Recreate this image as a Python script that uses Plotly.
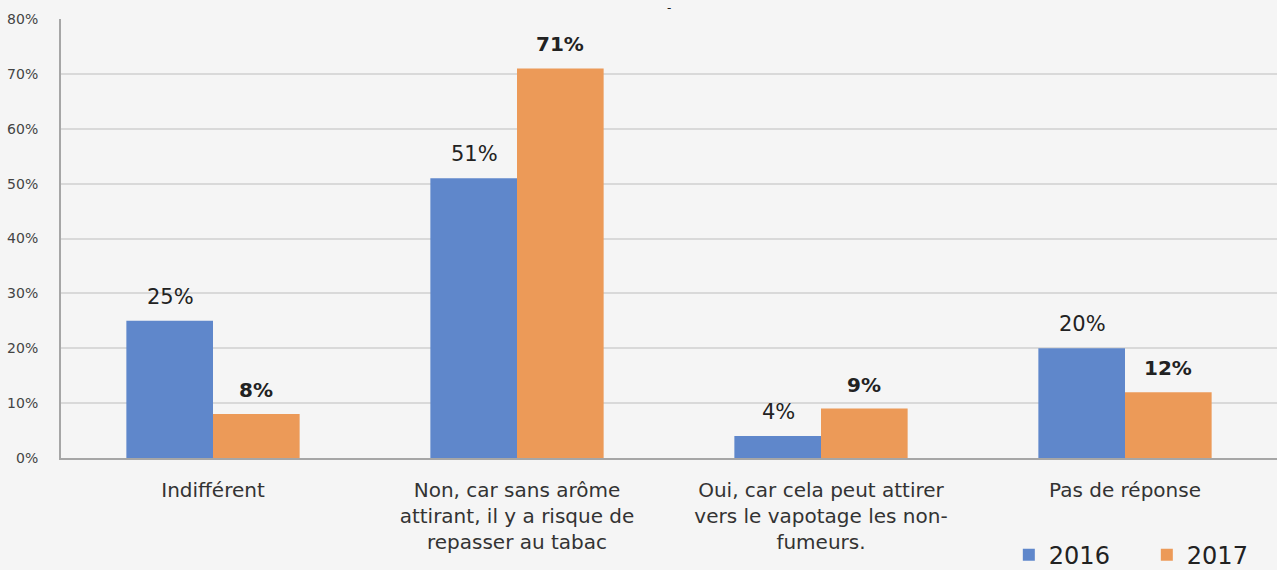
import plotly.graph_objects as go

categories = [
    "Indifférent",
    "Non, car sans arôme<br>attirant, il y a risque de<br>repasser au tabac",
    "Oui, car cela peut attirer<br>vers le vapotage les non-<br>fumeurs.",
    "Pas de réponse",
]
values_2016 = [25, 51, 4, 20]
values_2017 = [8, 71, 9, 12]
tick_vals = [0, 10, 20, 30, 40, 50, 60, 70, 80]
tick_text = ["0%", "10%", "20%", "30%", "40%", "50%", "60%", "70%", "80%"]

BLUE = "#5f87cb"
ORANGE = "#ec9a58"

fig = go.Figure()
fig.add_trace(go.Bar(x=categories, y=values_2016, name="2016", marker={"color": BLUE, "line": {"width": 0}}))
fig.add_trace(go.Bar(x=categories, y=values_2017, name="2017", marker={"color": ORANGE, "line": {"width": 0}}))

# value labels sit a bit above the bars, 2017 ones in bold
for cat, v16, v17 in zip(categories, values_2016, values_2017):
    fig.add_annotation(x=cat, y=v16, text=f"{v16}%", xshift=-43, yshift=24, showarrow=False,
                       font={"size": 21, "color": "#222222"})
    fig.add_annotation(x=cat, y=v17, text=f"<b>{v17}%</b>", xshift=43, yshift=24, showarrow=False,
                       font={"size": 20, "color": "#222222"})

# the little dash left over from the title
fig.add_annotation(x=0.5, y=1, xref="paper", yref="paper", text="-", showarrow=False,
                   yshift=2, yanchor="bottom", font={"size": 12, "color": "#222222"})

fig.update_layout(
    width=1277,
    height=570,
    barmode="group",
    bargap=0.43,
    bargroupgap=0,
    paper_bgcolor="#f5f5f5",
    plot_bgcolor="#f5f5f5",
    margin={"l": 61, "r": 0, "t": 19, "b": 112, "autoexpand": False},
    font={"family": "DejaVu Sans, sans-serif", "color": "#333333"},
    legend={
        "orientation": "h",
        "xref": "container",
        "yref": "container",
        "x": 0.79,
        "y": 0.026,
        "xanchor": "left",
        "yanchor": "middle",
        "font": {"size": 24, "color": "#222222"},
        "itemwidth": 30,
        "entrywidth": 93,
        "bgcolor": "rgba(0,0,0,0)",
    },
    xaxis={
        "tickfont": {"size": 20, "color": "#333333"},
        "showline": True,
        "linecolor": "#a6a6a6",
        "linewidth": 2,
        "ticks": "",
        "ticklabelstandoff": 13,
        "automargin": False,
    },
    yaxis={
        "range": [0, 80],
        "tickvals": tick_vals,
        "ticktext": tick_text,
        "tickfont": {"size": 14, "color": "#444444"},
        "gridcolor": "#d9d9d9",
        "gridwidth": 2,
        "showline": True,
        "linecolor": "#a6a6a6",
        "linewidth": 2,
        "ticks": "",
        "ticklabelstandoff": 18,
        "zeroline": False,
        "automargin": False,
    },
)

fig.write_html("out.html", config={"displayModeBar": False},
               post_script="document.body.style.margin='0';")
